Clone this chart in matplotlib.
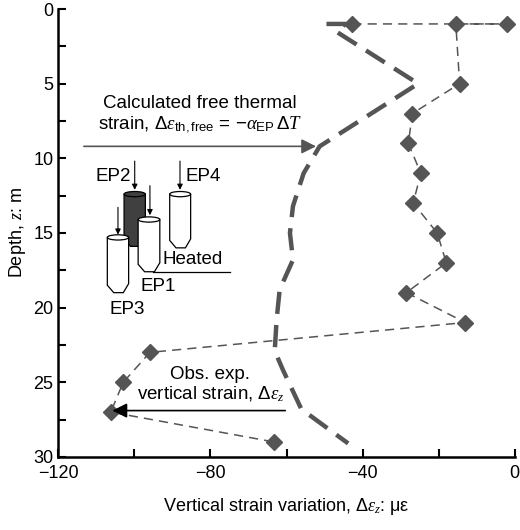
import matplotlib
matplotlib.use("Agg")
import matplotlib.pyplot as plt
from matplotlib.patches import Polygon, Ellipse

plt.rcParams['font.family'] = ['Liberation Sans', 'DejaVu Sans']
plt.rcParams['mathtext.fontset'] = 'custom'
plt.rcParams['mathtext.rm'] = 'Liberation Sans'
plt.rcParams['mathtext.it'] = 'Liberation Serif:italic'
plt.rcParams['mathtext.bf'] = 'Liberation Sans:bold'

obs_strain = [-42.7, -2, -15.5, -14.5, -26.9, -28, -24.7, -26.7, -20.4, -18, -28.5, -13, -95.9, -102.9, -106.2, -63.3]
obs_depth = [1, 1, 1, 5, 7, 9, 11, 13, 15, 17, 19, 21, 23, 25, 27, 29]
calc_strain = [-49.5, -44.5, -47, -25.4, -51.3, -55.5, -58.3, -59.1, -58.3, -61.8, -62.6, -63.1, -60.9, -56.1, -43.8]
calc_depth = [1.0, 1.0, 1.5, 5.0, 9.2, 11.0, 13.2, 15.0, 16.8, 18.8, 20.8, 22.9, 24.2, 26.8, 29.1]
xticks = [-120, -80, -40, 0]
yticks = [0, 5, 10, 15, 20, 25, 30]

G = '#555555'
fig = plt.figure(figsize=(5.2, 5.3), dpi=100)
ax = fig.add_axes([0.112, 0.138, 0.878, 0.845])
ax.plot(calc_strain, calc_depth, color=G, lw=3.2, dashes=(5, 2.5), zorder=2)
ax.plot(obs_strain, obs_depth, color=G, lw=1.1, dashes=(6, 4), marker='D', ms=8, mfc=G, mec=G, zorder=3)
ax.set_xlim(-120, 0); ax.set_ylim(30, 0)
ax.set_xticks(xticks); ax.set_yticks(yticks)
ax.set_xticks([-100, -60, -20], minor=True)
ax.set_yticks([2.5, 7.5, 12.5, 17.5, 22.5, 27.5], minor=True)
ax.set_xticklabels(['\u2212120', '\u221280', '\u221240', '0'])
for s in ['top', 'right']:
    ax.spines[s].set_visible(False)
for s in ['left', 'bottom']:
    ax.spines[s].set_linewidth(1.8)
ax.tick_params(which='both', direction='in', width=1.5, labelsize=13)
ax.tick_params(which='major', length=6)
ax.tick_params(which='minor', length=6)
ax.tick_params(axis='x', pad=6)
ax.set_xlabel(r'Vertical strain variation, $\Delta\varepsilon_z$: $\mathrm{\mu\varepsilon}$', fontsize=13, labelpad=10)
ax.set_ylabel(r'Depth, $z$: m', fontsize=13, labelpad=4)

fs = 13.5
ax.text(-82.8, 6.3, 'Calculated free thermal', ha='center', va='center', fontsize=fs)
ax.text(-82.8, 7.75, r'strain, $\Delta\varepsilon_{\mathrm{th,free}}$ = $-\alpha_{\mathrm{EP}}\,\Delta T$', ha='center', va='center', fontsize=fs)
ax.annotate('', xy=(-51.5, 9.2), xytext=(-114, 9.2),
            arrowprops=dict(arrowstyle='-|>', color=G, lw=1.2, mutation_scale=22))
ax.text(-80, 24.5, 'Obs. exp.', ha='center', va='center', fontsize=fs)
ax.text(-80, 25.8, r'vertical strain, $\Delta\varepsilon_z$', ha='center', va='center', fontsize=fs)
ax.annotate('', xy=(-106.5, 26.9), xytext=(-59.6, 26.9),
            arrowprops=dict(arrowstyle='-|>', color='black', lw=1.2, mutation_scale=22))

def pile(x0, x1, top, bot, fc):
    w = x1 - x0
    pts = [(x0, top), (x0, bot - 0.5), (x0 + 0.3 * w, bot), (x1 - 0.25 * w, bot), (x1, bot - 0.6), (x1, top)]
    ax.add_patch(Polygon(pts, closed=True, fc=fc, ec='black', lw=0.9, zorder=4))
    ax.add_patch(Ellipse(((x0 + x1) / 2, top), w, 0.35, fc=fc, ec='black', lw=0.9, zorder=5))

def arrow(x, y0, y1):
    ax.annotate('', xy=(x, y1), xytext=(x, y0),
                arrowprops=dict(arrowstyle='-|>', color='black', lw=0.8, mutation_scale=8), zorder=6)

pile(-102.7, -97.1, 12.4, 15.9, '#404040')
pile(-90.7, -85.2, 12.4, 16.0, 'white')
pile(-99.0, -93.3, 14.1, 17.6, 'white')
pile(-107.1, -101.5, 15.3, 19.0, 'white')
arrow(-99.9, 10.0, 12.3)
arrow(-88.0, 10.0, 12.3)
arrow(-95.9, 11.65, 14.0)
arrow(-104.3, 13.1, 15.3)
ax.text(-105.5, 11.2, 'EP2', ha='center', va='center', fontsize=fs)
ax.text(-81.9, 11.2, 'EP4', ha='center', va='center', fontsize=fs)
ax.text(-93.7, 18.6, 'EP1', ha='center', va='center', fontsize=fs)
ax.text(-102.0, 20.1, 'EP3', ha='center', va='center', fontsize=fs)
ax.text(-84.7, 16.8, 'Heated', ha='center', va='center', fontsize=fs)
ax.plot([-95, -74.9], [17.6, 17.6], color='black', lw=0.9)

fig.savefig('out.png', dpi=100)
